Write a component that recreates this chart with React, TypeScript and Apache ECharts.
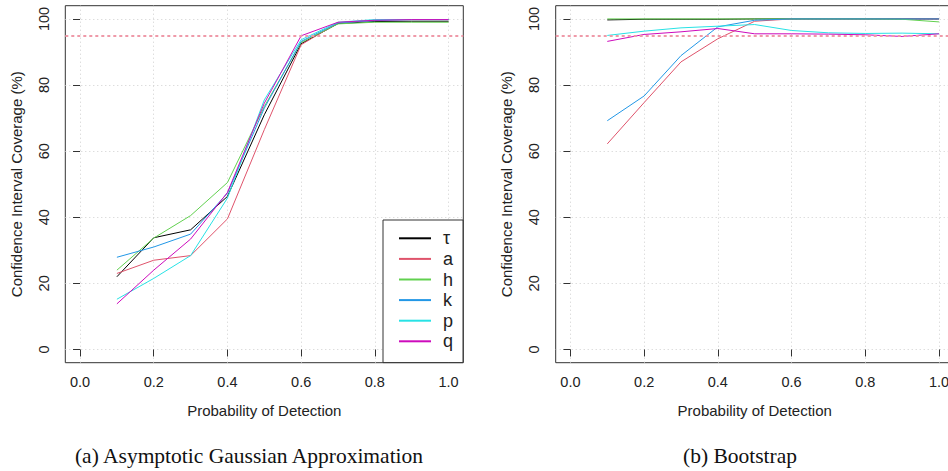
import React, { useEffect, useRef } from "react";
import * as echarts from "echarts";

// Detection probabilities at which coverage was simulated
const detectionProb = [0.1, 0.2, 0.3, 0.4, 0.5, 0.6, 0.7, 0.8, 0.9, 1.0];

// Parameter names, in legend order
const paramNames = ["τ", "a", "h", "k", "p", "q"];

// Coverage (%) of the asymptotic Gaussian intervals
const gaussTau = [22.0, 33.8, 36.2, 46.3, 71.0, 92.5, 98.6, 99.2, 99.3, 99.3];
const gaussA = [23.0, 27.0, 28.4, 39.5, 66.5, 92.2, 98.8, 99.6, 99.8, 99.8];
const gaussH = [24.0, 33.7, 40.5, 50.5, 73.5, 92.9, 98.5, 99.0, 99.0, 99.0];
const gaussK = [27.9, 31.0, 34.9, 47.3, 73.0, 93.2, 98.8, 99.5, 99.8, 99.8];
const gaussP = [15.2, 21.5, 28.4, 45.8, 75.5, 93.7, 99.0, 99.8, 99.8, 99.8];
const gaussQ = [13.8, 24.0, 33.4, 47.5, 74.5, 94.9, 99.0, 99.6, 99.8, 99.8];

// Coverage (%) of the bootstrap intervals
const bootTau = [99.7, 99.9, 99.9, 99.9, 100, 100, 100, 100, 100, 100];
const bootA = [62.2, 74.7, 87.0, 94.0, 99.3, 100, 100, 100, 100, 100];
const bootH = [100, 100, 100, 100, 100, 100, 100, 100, 99.9, 99.1];
const bootK = [69.2, 76.7, 88.9, 97.6, 99.6, 100, 100, 100, 100, 100];
const bootP = [95.0, 96.3, 97.3, 97.8, 98.3, 96.5, 95.8, 95.6, 95.7, 95.5];
const bootQ = [93.2, 95.3, 96.1, 97.1, 95.5, 95.5, 95.4, 95.2, 94.7, 95.5];

// Nominal coverage level
const nominalLevel = 95;

// Axis ticks
const xTicks = [0, 0.2, 0.4, 0.6, 0.8, 1.0];
const yTicks = [0, 20, 40, 60, 80, 100];

// Panel captions
const captions = ["(a) Asymptotic Gaussian Approximation", "(b) Bootstrap"];

const gaussSets = [gaussTau, gaussA, gaussH, gaussK, gaussP, gaussQ];
const bootSets = [bootTau, bootA, bootH, bootK, bootP, bootQ];

const lineColors = ["#000000", "#DF536B", "#61D04F", "#2297E6", "#28E2E5", "#CD0BBC"];

const SANS = "'Liberation Sans', Arial, Helvetica, sans-serif";
const SERIF = "'Liberation Serif', 'Times New Roman', serif";

// Plot regions (the boxed area, R-style with 4% padding around the data range)
const panels = [
  { left: 65.3, caption: captions[0], cx: 249 },
  { left: 555.7, caption: captions[1], cx: 740 },
];
const BOX_TOP = 5.7;
const BOX_W = 398;
const BOX_H = 357;
// Drawing surface is a bit wider than the page so the right panel can run off the edge
const CANVAS_W = 980;
const VIEW_W = 948;
const VIEW_H = 471;

function buildOption() {
  const grid = panels.map((p) => ({
    left: p.left,
    top: BOX_TOP,
    width: BOX_W,
    height: BOX_H,
    show: true,
    borderColor: "#333",
    borderWidth: 1,
    backgroundColor: "transparent",
    containLabel: false,
  }));

  const splitStyle = { color: "#cfcfcf", width: 1, type: [1, 3] as any };

  const xAxis = panels.map((_, i) => ({
    type: "value",
    gridIndex: i,
    min: -0.04,
    max: 1.04,
    axisLine: { show: false },
    axisTick: {
      show: true,
      customValues: xTicks,
      length: 7,
      lineStyle: { color: "#333", width: 1 },
    },
    axisLabel: {
      show: true,
      customValues: xTicks,
      formatter: (v: number) => v.toFixed(1),
      margin: 12,
      fontSize: 14.5,
      color: "#222",
      fontFamily: SANS,
    },
    splitLine: { show: true, lineStyle: splitStyle },
    name: "Probability of Detection",
    nameLocation: "middle",
    nameGap: 40,
    nameTextStyle: { fontSize: 15, color: "#222", fontFamily: SANS },
  }));

  const yAxis = panels.map((_, i) => ({
    type: "value",
    gridIndex: i,
    min: -4,
    max: 104,
    axisLine: { show: false },
    axisTick: {
      show: true,
      customValues: yTicks,
      length: 7,
      lineStyle: { color: "#333", width: 1 },
    },
    axisLabel: {
      show: true,
      customValues: yTicks,
      rotate: 90,
      margin: 14,
      fontSize: 14.5,
      color: "#222",
      fontFamily: SANS,
    },
    splitLine: { show: true, lineStyle: splitStyle },
    name: "Confidence Interval Coverage (%)",
    nameLocation: "middle",
    nameGap: 41.5,
    nameRotate: 90,
    nameTextStyle: { fontSize: 15, color: "#222", fontFamily: SANS },
  }));

  const series: any[] = [];
  [gaussSets, bootSets].forEach((sets, pi) => {
    sets.forEach((vals, si) => {
      const s: any = {
        type: "line",
        name: paramNames[si],
        xAxisIndex: pi,
        yAxisIndex: pi,
        data: detectionProb.map((x, j) => [x, vals[j]]),
        symbol: "none",
        color: lineColors[si],
        lineStyle: { width: 1, color: lineColors[si] },
        silent: true,
      };
      if (si === sets.length - 1) {
        s.markLine = {
          silent: true,
          symbol: "none",
          label: { show: false },
          lineStyle: { color: "#EF9AA9", width: 2, type: [3, 3] },
          data: [{ yAxis: nominalLevel }],
        };
      }
      series.push(s);
    });
  });

  return {
    animation: false,
    backgroundColor: "#ffffff",
    grid,
    xAxis,
    yAxis,
    legend: {
      data: paramNames.map((n) => ({ name: n, icon: "rect" })),
      orient: "vertical",
      left: 383,
      top: 220,
      itemWidth: 32,
      itemHeight: 2,
      itemGap: 2.6,
      padding: [9.3, 10, 12.3, 16],
      backgroundColor: "#ffffff",
      borderColor: "#333",
      borderWidth: 1,
      borderRadius: 0,
      selectedMode: false,
      textStyle: {
        fontSize: 18,
        color: "#222",
        fontFamily: SANS,
        padding: [0, 0, 0, 7],
      },
    },
    graphic: panels.map((p) => ({
      type: "text",
      x: p.cx,
      y: 456,
      style: {
        text: p.caption,
        fontSize: 21.5,
        fontFamily: SERIF,
        fill: "#111",
        align: "center",
        verticalAlign: "middle",
      },
    })),
    series,
  };
}

export default function App() {
  const ref = useRef<HTMLDivElement>(null);
  useEffect(() => {
    if (!ref.current) return;
    const chart = echarts.init(ref.current, undefined, { renderer: "svg" });
    chart.setOption(buildOption() as any);
    return () => chart.dispose();
  }, []);
  return (
    <div
      style={{
        position: "absolute",
        left: 0,
        top: 0,
        width: VIEW_W,
        height: VIEW_H,
        overflow: "hidden",
        background: "#ffffff",
      }}
    >
      <div ref={ref} style={{ width: CANVAS_W, height: VIEW_H }} />
    </div>
  );
}
